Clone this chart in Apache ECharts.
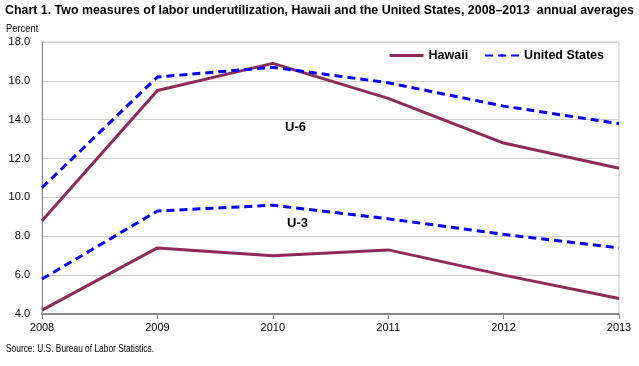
<!DOCTYPE html>
<html><head><meta charset="utf-8">
<script src="https://cdn.jsdelivr.net/npm/echarts@6/dist/echarts.min.js"></script>
<style>html,body{margin:0;padding:0;background:#fff}#c{width:639px;height:366px}</style>
</head><body><div id="c"></div>
<script>
const years = ['2008','2009','2010','2011','2012','2013'];
const hawaiiU6 = [8.8, 15.5, 16.9, 15.1, 12.8, 11.5];
const usU6 = [10.5, 16.2, 16.7, 15.9, 14.7, 13.8];
const hawaiiU3 = [4.2, 7.4, 7.0, 7.3, 6.0, 4.8];
const usU3 = [5.8, 9.3, 9.6, 8.9, 8.1, 7.4];
const yTicks = [4, 6, 8, 10, 12, 14, 16, 18];
const titleText = 'Chart 1. Two measures of labor underutilization, Hawaii and the United States, 2008\u20132013  annual averages';
const sourceText = 'Source: U.S. Bureau of Labor Statistics.';

const font = '"Liberation Sans", sans-serif';
const ctx = document.createElement('canvas').getContext('2d');
function fit(text, f, w){ ctx.font = f; return w / ctx.measureText(text).width; }
const titleFont = 'bold 13px ' + font;
const srcFont = '11px ' + font;

const hawaiiColor = '#8e2a58';
const usColor = '#0000ff';
const chart = echarts.init(document.getElementById('c'));
const hLine = {type:'line', name:'Hawaii', symbol:'none', lineStyle:{color:hawaiiColor, width:3}, itemStyle:{color:hawaiiColor}, z:3};
const uLine = {type:'line', name:'United States', symbol:'none', lineStyle:{color:usColor, width:3, type:[8,5]}, itemStyle:{color:usColor}, z:4};
chart.setOption({
  animation:false,
  textStyle:{fontFamily:font},
  graphic:[
    {type:'text', x:5, y:4, scaleX:fit(titleText, titleFont, 629), style:{text:titleText, font:titleFont, fill:'#000'}},
    {type:'text', x:6, y:23, scaleX:0.85, style:{text:'Percent', font:'11px '+font, fill:'#000'}},
    {type:'text', x:6, y:343, scaleX:fit(sourceText, srcFont, 148), style:{text:sourceText, font:srcFont, fill:'#000'}},
    {type:'text', left:285, top:121, style:{text:'U-6', font:'bold 13px '+font, fill:'#000'}},
    {type:'text', left:287, top:217, style:{text:'U-3', font:'bold 13px '+font, fill:'#000'}}
  ],
  legend:{right:30, top:44, itemWidth:34, itemHeight:3, itemGap:16,
    textStyle:{fontFamily:font, fontSize:12.5, fontWeight:'bold', color:'#000'},
    data:[{name:'Hawaii', icon:'rect'}, {name:'United States'}]},
  grid:{left:42, right:20, top:42, bottom:52, show:true, borderColor:'#c8c8c8', borderWidth:1},
  xAxis:{type:'category', data:years, boundaryGap:false,
    axisLine:{lineStyle:{color:'#888', width:2}}, axisTick:{show:true, length:5, lineStyle:{color:'#888'}},
    axisLabel:{color:'#000', fontSize:11, fontFamily:font, margin:8}},
  yAxis:{type:'value', min:4, max:18, interval:2,
    axisLine:{show:true, lineStyle:{color:'#888'}}, axisTick:{show:false},
    splitLine:{lineStyle:{color:'#d0d0d0', width:1}},
    axisLabel:{color:'#000', fontSize:11, fontFamily:font, margin:12, formatter:v=>v.toFixed(1)}},
  series:[
    Object.assign({}, hLine, {data:hawaiiU6}),
    Object.assign({}, uLine, {data:usU6}),
    Object.assign({}, hLine, {data:hawaiiU3}),
    Object.assign({}, uLine, {data:usU3})
  ]
});
</script></body></html>
